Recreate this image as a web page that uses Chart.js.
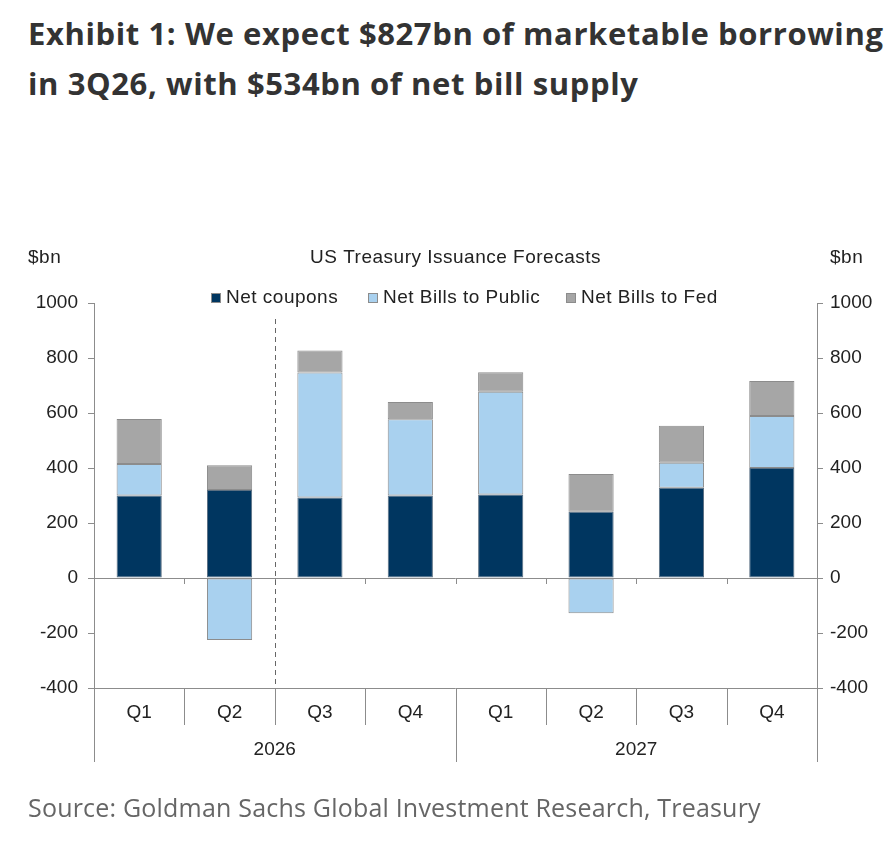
<!DOCTYPE html>
<html>
<head>
<meta charset="utf-8">
<script src="https://cdn.jsdelivr.net/npm/chart.js@4.4.1/dist/chart.umd.min.js"></script>
<style>
  html, body { margin: 0; padding: 0; background: #fff; }
  #wrap { position: relative; width: 894px; height: 842px; overflow: hidden; }
  h1 { position: absolute; left: 28px; top: 8px; margin: 0; font: 700 31px/50px "Open Sans", sans-serif; letter-spacing: 0.6px; color: #333; white-space: nowrap; }
  .src { position: absolute; left: 28px; top: 792px; font: 25px/30px "Open Sans", sans-serif; letter-spacing: 0.2px; color: #666; white-space: nowrap; }
  canvas { position: absolute; left: 0; top: 0; }
</style>
</head>
<body>
<div id="wrap">
  <h1>Exhibit 1: We expect $827bn of marketable borrowing<br>in 3Q26, with $534bn of net bill supply</h1>
  <canvas id="issuance" width="894" height="842"></canvas>
  <div class="src">Source: Goldman Sachs Global Investment Research, Treasury</div>
</div>
<script>
// Quarters and years on the x axis
const quarters = ["Q1", "Q2", "Q3", "Q4", "Q1", "Q2", "Q3", "Q4"];
const years = ["2026", "2027"];

// $bn
const netCoupons = [300, 320, 293, 300, 304, 241, 328, 400];
const billsPublic = [115, -225, 454, 277, 373, -128, 91, 189];
const billsFed = [163, 90, 80, 63, 71, 137, 135, 127];

const yTicks = [-400, -200, 0, 200, 400, 600, 800, 1000];

const NAVY = "#003660";
const LIGHT = "#a9d1ef";
const GREY = "#a6a6a6";
const AXIS = "#8c8c8c";
const TEXT = "#222";
const FONT = "Liberation Sans, Arial, sans-serif";

// extra drawing: Excel-style two-level axis, dashed divider, titles, legend
const excelBits = {
  id: "excelBits",
  afterDraw(chart) {
    const { ctx, chartArea: a, scales } = chart;
    const x = scales.x, y = scales.y;
    const step = x.getPixelForValue(1) - x.getPixelForValue(0);
    const edge = i => x.getPixelForValue(i) - step / 2;
    const y0 = y.getPixelForValue(0);
    const yb = y.getPixelForValue(-400);

    ctx.save();
    ctx.strokeStyle = AXIS;
    ctx.lineWidth = 1;

    // zero line + little ticks at the category boundaries
    ctx.beginPath();
    ctx.moveTo(a.left, y0 + 0.5);
    ctx.lineTo(a.right, y0 + 0.5);
    for (let i = 1; i < quarters.length; i++) {
      const px = Math.round(edge(i)) + 0.5;
      ctx.moveTo(px, y0);
      ctx.lineTo(px, y0 + 6);
    }
    // bottom line
    ctx.moveTo(a.left, yb + 0.5);
    ctx.lineTo(a.right, yb + 0.5);
    // quarter dividers and year dividers
    for (let i = 0; i <= quarters.length; i++) {
      const px = Math.round(edge(i)) + 0.5;
      const long = i % 4 === 0;
      ctx.moveTo(px, yb);
      ctx.lineTo(px, yb + (long ? 74 : 37));
    }
    ctx.stroke();

    // dashed line between Q2 and Q3 2026
    ctx.strokeStyle = "#666";
    ctx.setLineDash([5, 4]);
    ctx.beginPath();
    const dx = Math.round(edge(2)) + 0.5;
    ctx.moveTo(dx, a.top + 16);
    ctx.lineTo(dx, yb);
    ctx.stroke();
    ctx.setLineDash([]);

    // category labels
    ctx.fillStyle = TEXT;
    ctx.font = "19px " + FONT;
    ctx.textAlign = "center";
    ctx.textBaseline = "middle";
    quarters.forEach((q, i) => ctx.fillText(q, x.getPixelForValue(i), yb + 25));
    years.forEach((yr, k) => ctx.fillText(yr, (edge(k * 4) + edge(k * 4 + 4)) / 2, yb + 62));

    // chart title and unit labels
    ctx.letterSpacing = "0.5px";
    ctx.fillText("US Treasury Issuance Forecasts", (a.left + a.right) / 2, a.top - 45);
    ctx.textAlign = "left";
    ctx.fillText("$bn", 28, a.top - 45);
    ctx.fillText("$bn", 830, a.top - 45);

    // legend
    const items = [
      ["Net coupons", NAVY, 211],
      ["Net Bills to Public", LIGHT, 368],
      ["Net Bills to Fed", GREY, 566]
    ];
    const ly = a.top - 5;
    items.forEach(([label, col, lx]) => {
      ctx.fillStyle = col;
      ctx.fillRect(lx, ly - 5, 10, 10);
      ctx.strokeStyle = AXIS;
      ctx.strokeRect(lx + 0.5, ly - 4.5, 9, 9);
      ctx.fillStyle = TEXT;
      ctx.fillText(label, lx + 15, ly);
    });
    ctx.restore();
  }
};

const yAxis = (pos, pad) => ({
  position: pos,
  stacked: true,
  min: -400,
  max: 1000,
  afterBuildTicks: s => { s.ticks = yTicks.map(v => ({ value: v })); },
  afterFit: s => { s.width = 60; },
  grid: { drawOnChartArea: false, tickLength: 6, color: AXIS },
  border: { color: AXIS },
  ticks: {
    padding: pad,
    color: TEXT,
    font: { family: FONT, size: 19 },
    callback: v => String(v)
  }
});

const data = {
  labels: quarters,
  datasets: [
    { label: "Net coupons", data: netCoupons, backgroundColor: NAVY, borderColor: "#5a6f82" },
    { label: "Net Bills to Public", data: billsPublic, backgroundColor: LIGHT, borderColor: AXIS },
    { label: "Net Bills to Fed", data: billsFed, backgroundColor: GREY, borderColor: AXIS }
  ].map(d => Object.assign(d, { borderWidth: 1, barPercentage: 0.5, categoryPercentage: 1, borderSkipped: false }))
};

new Chart(document.getElementById("issuance").getContext("2d"), {
  type: "bar",
  data: data,
  options: {
    responsive: false,
    animation: false,
    layout: { padding: { left: 34, right: 17, top: 303, bottom: 154 } },
    plugins: { legend: { display: false }, tooltip: { enabled: false } },
    scales: {
      x: { stacked: true, display: false, offset: true },
      y: yAxis("left", 10),
      y2: yAxis("right", 7)
    }
  },
  plugins: [excelBits]
});
</script>
</body>
</html>
